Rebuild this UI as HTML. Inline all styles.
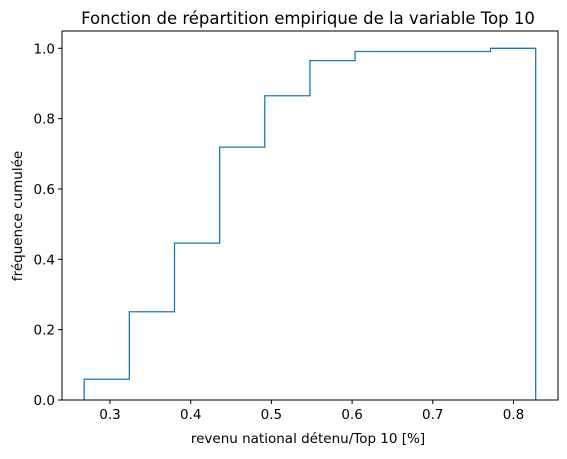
<!DOCTYPE html>
<html><head><meta charset="utf-8"><style>
body{margin:0;background:#fff}
text{font-family:"DejaVu Sans","Liberation Sans",sans-serif;fill:#000}
</style></head><body>
<svg id="chart" width="567" height="454" xmlns="http://www.w3.org/2000/svg">
<text x="308" y="24" font-size="16.5" text-anchor="middle">Fonction de répartition empirique de la variable Top 10</text>
<text x="308" y="443" font-size="13.5" text-anchor="middle">revenu national détenu/Top 10 [%]</text>
<text transform="translate(22,216) rotate(-90)" font-size="13.5" text-anchor="middle">fréquence cumulée</text>
<g id="ticks"></g>
<path id="step" fill="none" stroke="#1f77b4" stroke-width="1.3"/>
<rect x="62" y="31" width="496" height="369" fill="none" stroke="#000" stroke-width="1"/>
</svg>
<script>
const binStart = 0.268;
const binEnd = 0.8275;
const cumFreq = [0.059, 0.251, 0.446, 0.719, 0.865, 0.965, 0.991, 0.991, 0.991, 1.0];
const xTicks = [0.3, 0.4, 0.5, 0.6, 0.7, 0.8];
const xTickLabels = ["0.3", "0.4", "0.5", "0.6", "0.7", "0.8"];
const yTicks = [0, 0.2, 0.4, 0.6, 0.8, 1.0];
const yTickLabels = ["0.0", "0.2", "0.4", "0.6", "0.8", "1.0"];

const X = v => 110 + (v - 0.3) * 807;
const Y = v => 400 - v * 351.7;
const NS = "http://www.w3.org/2000/svg";
const g = document.getElementById('ticks');
function mk(tag, attrs, parent){const e=document.createElementNS(NS,tag);for(const k in attrs)e.setAttribute(k,attrs[k]);parent.appendChild(e);return e;}

xTicks.forEach((v,i)=>{
  const l = mk('line',{x1:X(v),x2:X(v),y1:400,y2:404,stroke:'#000'},g);
  
  
  const t = mk('text',{x:X(v),y:419,'font-size':13.5,'text-anchor':'middle'},g);
  t.textContent = xTickLabels[i];
  
  
});
yTicks.forEach((v,i)=>{
  const l = mk('line',{x1:58,x2:62,y1:Y(v),y2:Y(v),stroke:'#000'},g);
  
  
  const t = mk('text',{x:55,y:Y(v)+5,'font-size':13.5,'text-anchor':'end'},g);
  t.textContent = yTickLabels[i];
  
  
});

const n = cumFreq.length, w = (binEnd - binStart) / n;
let d = `M${X(binStart)},${Y(0)}`;
cumFreq.forEach((c,i)=>{
  d += ` L${X(binStart+i*w)},${Y(c)} L${X(binStart+(i+1)*w)},${Y(c)}`;
});
d += ` L${X(binEnd)},${Y(0)}`;
document.getElementById('step').setAttribute('d', d);
</script>
</body></html>
